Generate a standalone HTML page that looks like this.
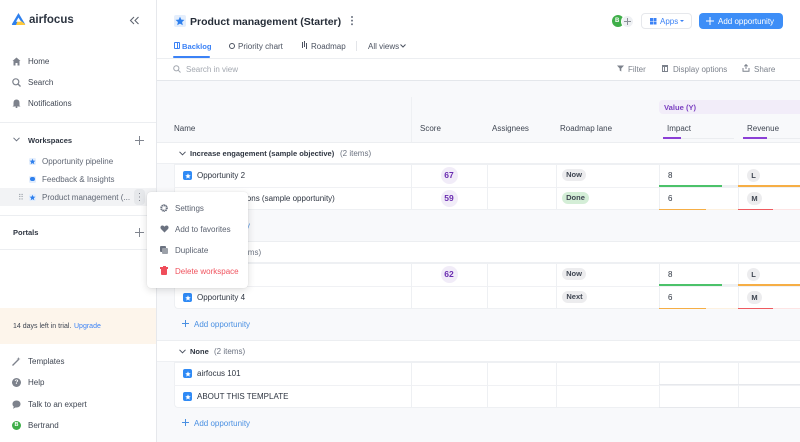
<!DOCTYPE html>
<html><head><meta charset="utf-8">
<style>
*{box-sizing:border-box;margin:0;padding:0}
body{width:800px;height:442px;overflow:hidden;background:#f8f9fb;font-family:"Liberation Sans",Arial,sans-serif;color:#2e3541;position:relative}
.a{position:absolute}
.t{position:absolute;white-space:nowrap;font-size:8px;line-height:12px;margin-top:0.5px}
.h{height:1px;background:#eceef1;position:absolute}
.v{width:1px;background:#eef0f3;position:absolute}
.ic{position:absolute;width:9px;height:9px;border-radius:2px;background:#2f8af5}
.sc{position:absolute;width:17px;height:17px;border-radius:50%;background:#f1ecf8;color:#6a2cb0;font-weight:bold;font-size:8.5px;line-height:17px;text-align:center}
.pl{position:absolute;height:12px;border-radius:6px;background:#ececee;color:#3f4652;font-size:7.5px;line-height:12px;text-align:center;font-weight:bold}
.lc{position:absolute;width:13px;height:13px;border-radius:7px;background:#ececee;color:#3f4652;font-size:7.5px;line-height:13px;text-align:center;font-weight:bold}
.side{color:#3f4652}
.ws{color:#5f6673}
.blue{color:#3b82f6}
.gb{font-weight:bold;color:#2e3541;font-size:7.5px}
</style></head><body>

<!-- SIDEBAR -->
<div class="a" style="left:0;top:0;width:157px;height:442px;background:#fff;border-right:1px solid #e6e8ec"></div>
<svg class="a" style="left:11px;top:12px" width="15" height="14" viewBox="0 0 15 14">
<path d="M7.5 1 L14 12 Q14.5 13 13 13 L2 13 Q0.5 13 1 12 Z" fill="#2f80ed"/>
<path d="M7.5 7 L14 12 Q14.5 13 13 13 L5 13 Z" fill="#ffc93c"/>
<path d="M7.5 5.5 L10 9.8 L5 9.8 Z" fill="#fff"/>
</svg>
<div class="t" style="left:29px;top:11px;font-size:11.5px;line-height:16px;font-weight:bold;color:#2c3440">airfocus</div>
<svg class="a" style="left:129px;top:16px" width="11" height="9" viewBox="0 0 11 9"><path d="M5 1 L1.5 4.5 L5 8 M9.5 1 L6 4.5 L9.5 8" stroke="#5f6570" stroke-width="1.1" fill="none"/></svg>

<svg class="a" style="left:12px;top:57px" width="9" height="9" viewBox="0 0 9 9"><path d="M4.5 0.5 L8.5 4 L7.5 4 L7.5 8.5 L5.5 8.5 L5.5 6 L3.5 6 L3.5 8.5 L1.5 8.5 L1.5 4 L0.5 4 Z" fill="#7d828c"/></svg>
<div class="t side" style="left:28px;top:55px">Home</div>
<svg class="a" style="left:12px;top:78px" width="9" height="9" viewBox="0 0 9 9"><circle cx="3.8" cy="3.8" r="3" stroke="#7d828c" stroke-width="1.2" fill="none"/><path d="M6 6 L8.5 8.5" stroke="#7d828c" stroke-width="1.3"/></svg>
<div class="t side" style="left:28px;top:76px">Search</div>
<svg class="a" style="left:12px;top:99px" width="9" height="9" viewBox="0 0 9 9"><path d="M4.5 0.5 Q7.5 0.5 7.5 4 L7.5 6.5 L8.5 7.5 L0.5 7.5 L1.5 6.5 L1.5 4 Q1.5 0.5 4.5 0.5 Z" fill="#7d828c"/><circle cx="4.5" cy="8.3" r="0.9" fill="#7d828c"/></svg>
<div class="t side" style="left:28px;top:97px">Notifications</div>

<div class="h" style="left:0;top:122px;width:156px"></div>

<svg class="a" style="left:13px;top:137px" width="7" height="5" viewBox="0 0 7 5"><path d="M0.5 0.8 L3.5 3.8 L6.5 0.8" stroke="#6b7280" stroke-width="1" fill="none"/></svg>
<div class="t gb" style="left:28px;top:134px">Workspaces</div>
<svg class="a" style="left:135px;top:136px" width="9" height="9" viewBox="0 0 9 9"><path d="M4.5 0 V9 M0 4.5 H9" stroke="#80858f" stroke-width="1"/></svg>

<div class="a" style="left:29px;top:158px;width:7px;height:7px;border-radius:1.5px;background:#e4eefc"></div>
<svg class="a" style="left:29px;top:158px" width="7" height="7" viewBox="0 0 10 10"><polygon points="5,1 6.2,3.8 9.2,4 6.9,5.9 7.6,8.9 5,7.3 2.4,8.9 3.1,5.9 0.8,4 3.8,3.8" fill="#2f80ed"/></svg>
<div class="t ws" style="left:42px;top:155px">Opportunity pipeline</div>
<div class="a" style="left:29px;top:176px;width:7px;height:7px;border-radius:1.5px;background:#e4eefc"></div>
<div class="a" style="left:30px;top:177px;width:5px;height:4px;border-radius:2px;background:#2f80ed"></div>
<div class="t ws" style="left:42px;top:173px">Feedback &amp; Insights</div>

<div class="a" style="left:0;top:188px;width:156px;height:18px;background:#f2f3f5"></div>
<div class="t" style="left:18px;top:191px;color:#9aa0a8;font-size:8px;letter-spacing:-1px">⠿</div>
<div class="a" style="left:29px;top:194px;width:7px;height:7px;border-radius:1.5px;background:#e4eefc"></div>
<svg class="a" style="left:29px;top:194px" width="7" height="7" viewBox="0 0 10 10"><polygon points="5,1 6.2,3.8 9.2,4 6.9,5.9 7.6,8.9 5,7.3 2.4,8.9 3.1,5.9 0.8,4 3.8,3.8" fill="#2f80ed"/></svg>
<div class="t ws" style="left:42px;top:191px">Product management (...</div>
<div class="a" style="left:134px;top:189px;width:11px;height:16px;border-radius:4px;background:#e6e8eb"></div>
<div class="a" style="left:138.7px;top:192.5px;width:1.6px;height:1.6px;border-radius:1px;background:#5f6570;box-shadow:0 3.5px 0 #5f6570,0 7px 0 #5f6570"></div>

<div class="h" style="left:0;top:215px;width:156px"></div>
<div class="t gb" style="left:13px;top:226px">Portals</div>
<svg class="a" style="left:135px;top:228px" width="9" height="9" viewBox="0 0 9 9"><path d="M4.5 0 V9 M0 4.5 H9" stroke="#80858f" stroke-width="1"/></svg>
<div class="h" style="left:0;top:249px;width:156px"></div>

<div class="a" style="left:0;top:308px;width:156px;height:36px;background:#fdf5eb"></div>
<div class="t" style="left:13px;top:320px;font-size:7px;color:#3d4450">14 days left in trial.</div>
<div class="t blue" style="left:74px;top:320px;font-size:7px">Upgrade</div>

<svg class="a" style="left:12px;top:357px" width="9" height="9" viewBox="0 0 9 9"><path d="M0.5 8.5 L6 3" stroke="#7d828c" stroke-width="1.3"/><path d="M6.5 0 L7 1.5 L8.5 2 L7 2.5 L6.5 4 L6 2.5 L4.5 2 L6 1.5Z" fill="#7d828c"/></svg>
<div class="t side" style="left:28px;top:355px">Templates</div>
<div class="a" style="left:12px;top:378px;width:9px;height:9px;border-radius:50%;background:#7d828c;color:#fff;font-size:6.5px;line-height:9px;text-align:center;font-weight:bold">?</div>
<div class="t side" style="left:28px;top:376px">Help</div>
<svg class="a" style="left:12px;top:400px" width="9" height="9" viewBox="0 0 9 9"><path d="M4.5 0.5 C7 0.5 8.5 2 8.5 4 C8.5 6 7 7.5 4.5 7.5 L3.5 7.5 L1 8.8 L1.8 6.6 C0.9 6 0.5 5 0.5 4 C0.5 2 2 0.5 4.5 0.5Z" fill="#7d828c"/></svg>
<div class="t side" style="left:28px;top:398px">Talk to an expert</div>
<div class="a" style="left:12px;top:421px;width:9px;height:9px;border-radius:50%;background:#3fae49;color:#fff;font-size:5.5px;line-height:9px;text-align:center;font-weight:bold">B</div>
<div class="t side" style="left:28px;top:419px">Bertrand</div>

<!-- MAIN HEADER -->
<div class="a" style="left:157px;top:0;width:643px;height:80px;background:#fff"></div>
<div class="a" style="left:174px;top:15px;width:12px;height:12px;border-radius:2px;background:#e4eefc"></div>
<svg class="a" style="left:175px;top:16px" width="10" height="10" viewBox="0 0 10 10"><polygon points="5,0.6 6.3,3.6 9.5,3.9 7.1,6 7.8,9.3 5,7.6 2.2,9.3 2.9,6 0.5,3.9 3.7,3.6" fill="#2f80ed"/></svg>
<div class="t" style="left:190px;top:14px;font-size:10.5px;line-height:14px;font-weight:bold;color:#262d38">Product management (Starter)</div>
<div class="a" style="left:351.2px;top:16px;width:1.8px;height:1.8px;border-radius:1px;background:#6b7280;box-shadow:0 3.6px 0 #6b7280,0 7.2px 0 #6b7280"></div>

<div class="a" style="left:612px;top:15px;width:12px;height:12px;border-radius:50%;background:#3fae49;color:#fff;font-size:6px;line-height:12px;text-indent:3px;font-weight:bold">B</div>
<div class="a" style="left:621px;top:14.5px;width:13px;height:13px;border-radius:50%;background:#eef0f3;border:1px solid #fff"></div>
<svg class="a" style="left:624px;top:17.5px" width="7" height="7" viewBox="0 0 7 7"><path d="M3.5 0 V7 M0 3.5 H7" stroke="#8a8f98" stroke-width="1"/></svg>

<div class="a" style="left:641px;top:13px;width:51px;height:16px;border:1px solid #e6e8ec;border-radius:4px;background:#fff"></div>
<div class="a" style="left:650px;top:18px;width:2.5px;height:2.5px;background:#3b82f6;box-shadow:3.5px 0 0 #3b82f6,0 3.5px 0 #3b82f6,3.5px 3.5px 0 #3b82f6"></div>
<div class="t blue" style="left:660px;top:15px">Apps</div>
<div class="a" style="left:680px;top:20px;width:0;height:0;border-left:2px solid transparent;border-right:2px solid transparent;border-top:2px solid #3b82f6"></div>

<div class="a" style="left:699px;top:13px;width:84px;height:16px;border-radius:4px;background:#3d8ef7"></div>
<svg class="a" style="left:706px;top:17px" width="8" height="8" viewBox="0 0 8 8"><path d="M4 0 V8 M0 4 H8" stroke="#fff" stroke-width="1"/></svg>
<div class="t" style="left:718px;top:15px;color:#fff">Add opportunity</div>

<!-- tabs -->
<div class="a" style="left:174px;top:42px;width:6px;height:7px;border:1px solid #3b82f6;border-radius:1px"></div>
<div class="a" style="left:176.5px;top:42px;width:1px;height:7px;background:#3b82f6"></div>
<div class="t blue" style="left:182px;top:40px;font-weight:bold;font-size:7.6px">Backlog</div>
<div class="a" style="left:173px;top:56px;width:37px;height:2px;background:#3b82f6;border-radius:1px"></div>
<div class="a" style="left:229px;top:43px;width:6px;height:6px;border:1.2px solid #4b5260;border-radius:50%"></div>
<div class="t" style="left:238px;top:40px;color:#4b5260">Priority chart</div>
<div class="a" style="left:302px;top:42px;width:1.2px;height:6px;background:#4b5260;box-shadow:2px -1px 0 #4b5260,4px 1px 0 #4b5260"></div>
<div class="t" style="left:311px;top:40px;color:#4b5260">Roadmap</div>
<div class="a" style="left:356px;top:41px;width:1px;height:10px;background:#e3e5e9"></div>
<div class="t" style="left:368px;top:40px;color:#4b5260">All views</div>
<svg class="a" style="left:400px;top:44px" width="6" height="4" viewBox="0 0 6 4"><path d="M0.5 0.5 L3 3 L5.5 0.5" stroke="#4b5260" stroke-width="1" fill="none"/></svg>

<div class="h" style="left:157px;top:58px;width:643px"></div>

<svg class="a" style="left:173px;top:65px" width="8" height="8" viewBox="0 0 8 8"><circle cx="3.3" cy="3.3" r="2.6" stroke="#a3a8b0" stroke-width="1" fill="none"/><path d="M5.2 5.2 L7.5 7.5" stroke="#a3a8b0" stroke-width="1"/></svg>
<div class="t" style="left:186px;top:63px;color:#a3a8b0">Search in view</div>

<svg class="a" style="left:617px;top:65px" width="7" height="7" viewBox="0 0 7 7"><path d="M0 0.5 H7 L4.3 3.5 V6.5 L2.7 5.5 V3.5 Z" fill="#7c828c"/></svg>
<div class="t" style="left:628px;top:63px;color:#7c828c">Filter</div>
<div class="a" style="left:662px;top:65px;width:6px;height:7px;border:1px solid #7c828c;border-top-width:2px"></div>
<div class="a" style="left:664px;top:66px;width:1px;height:6px;background:#7c828c"></div>
<div class="t" style="left:673px;top:63px;color:#7c828c">Display options</div>
<svg class="a" style="left:742px;top:64px" width="8" height="8" viewBox="0 0 8 8"><path d="M4 5 V0.8 M2.3 2.3 L4 0.6 L5.7 2.3 M1 4 V7.3 H7 V4" stroke="#7c828c" stroke-width="1" fill="none"/></svg>
<div class="t" style="left:754px;top:63px;color:#7c828c">Share</div>

<div class="a" style="left:157px;top:80px;width:643px;height:1px;background:#e4e7eb"></div>

<!-- TABLE HEADER -->
<div class="v" style="left:411px;top:97px;height:45px"></div>
<div class="a" style="left:659px;top:100px;width:141px;height:14px;background:#f2edf9;border-radius:4px 0 0 4px"></div>
<div class="t" style="left:664px;top:101px;font-weight:bold;color:#7b3fc1;font-size:7.6px">Value (Y)</div>
<div class="t" style="left:174px;top:122px;color:#3f4652">Name</div>
<div class="t" style="left:420px;top:122px;color:#3f4652">Score</div>
<div class="t" style="left:492px;top:122px;color:#3f4652">Assignees</div>
<div class="t" style="left:560px;top:122px;color:#3f4652">Roadmap lane</div>
<div class="t" style="left:667px;top:122px;color:#3f4652">Impact</div>
<div class="t" style="left:747px;top:122px;color:#3f4652">Revenue</div>
<div class="a" style="left:663px;top:137.5px;width:71px;height:1px;background:#ebedf0"></div>
<div class="a" style="left:663px;top:137px;width:18px;height:1.6px;background:#8b3fd6"></div>
<div class="a" style="left:743px;top:137.5px;width:57px;height:1px;background:#ebedf0"></div>
<div class="a" style="left:743px;top:137px;width:24px;height:1.6px;background:#8b3fd6"></div>

<!-- GROUP 1 -->
<div class="a" style="left:157px;top:142px;width:643px;height:22px;background:#fff;border-top:1px solid #eceef1;border-bottom:1px solid #eef0f3"></div>
<svg class="a" style="left:179px;top:151px" width="7" height="5" viewBox="0 0 7 5"><path d="M0.5 0.8 L3.5 3.8 L6.5 0.8" stroke="#4b5260" stroke-width="1" fill="none"/></svg>
<div class="t gb" style="left:190px;top:147px">Increase engagement (sample objective)</div>
<div class="t" style="left:340px;top:147px;color:#6b7280">(2 items)</div>

<div class="a" style="left:174px;top:164px;width:626px;height:46px;background:#fff;border:1px solid #eef0f3;border-right:none;border-radius:0 0 0 4px"></div>
<div class="h" style="left:174px;top:187px;width:626px;background:#f0f1f4"></div>
<div class="v" style="left:411px;top:164px;height:46px"></div>
<div class="v" style="left:487px;top:164px;height:46px"></div>
<div class="v" style="left:556px;top:164px;height:46px"></div>
<div class="v" style="left:659px;top:164px;height:46px"></div>
<div class="v" style="left:738px;top:164px;height:46px"></div>

<div class="ic" style="left:183px;top:171px"></div>
<svg class="a" style="left:184.5px;top:172.5px" width="6" height="6" viewBox="0 0 10 10"><polygon points="5,0.6 6.3,3.6 9.5,3.9 7.1,6 7.8,9.3 5,7.6 2.2,9.3 2.9,6 0.5,3.9 3.7,3.6" fill="#fff"/></svg>
<div class="t" style="left:197px;top:169px;color:#2e3541">Opportunity 2</div>
<div class="sc" style="left:440.5px;top:167px">67</div>
<div class="pl" style="left:562px;top:169px;width:24px">Now</div>
<div class="t" style="left:668px;top:169px;color:#2e3541">8</div>
<div class="a" style="left:659px;top:185px;width:79px;height:1.5px;background:#eef0f2"></div>
<div class="a" style="left:659px;top:185px;width:63px;height:1.5px;background:#4cc26a"></div>
<div class="lc" style="left:747px;top:169px">L</div>
<div class="a" style="left:738px;top:185px;width:62px;height:1.5px;background:#f6ae45"></div>

<div class="ic" style="left:183px;top:194px"></div>
<div class="t" style="left:197px;top:192px;color:#2e3541">Push notifications (sample opportunity)</div>
<div class="sc" style="left:440.5px;top:190px">59</div>
<div class="pl" style="left:562px;top:192px;width:27px;background:#d4eed7">Done</div>
<div class="t" style="left:668px;top:192px;color:#2e3541">6</div>
<div class="a" style="left:659px;top:208.5px;width:79px;height:1.5px;background:#fdf1e0"></div>
<div class="a" style="left:659px;top:208.5px;width:47px;height:1.5px;background:#f6ae45"></div>
<div class="lc" style="left:747px;top:192px;width:15px">M</div>
<div class="a" style="left:738px;top:208.5px;width:62px;height:1.5px;background:#fde4e4"></div>
<div class="a" style="left:738px;top:208.5px;width:35px;height:1.5px;background:#ef5a5f"></div>

<svg class="a" style="left:182px;top:221px" width="7" height="7" viewBox="0 0 7 7"><path d="M3.5 0 V7 M0 3.5 H7" stroke="#4a90e2" stroke-width="1"/></svg>
<div class="t" style="left:194px;top:219px;color:#4a90e2">Add opportunity</div>

<!-- GROUP 2 -->
<div class="a" style="left:157px;top:241px;width:643px;height:22px;background:#fff;border-top:1px solid #eceef1;border-bottom:1px solid #eef0f3"></div>
<svg class="a" style="left:179px;top:250px" width="7" height="5" viewBox="0 0 7 5"><path d="M0.5 0.8 L3.5 3.8 L6.5 0.8" stroke="#4b5260" stroke-width="1" fill="none"/></svg>
<div class="t gb" style="left:190px;top:246px">Retention</div>
<div class="t" style="left:230px;top:246px;color:#6b7280">(2 items)</div>

<div class="a" style="left:174px;top:263px;width:626px;height:46px;background:#fff;border:1px solid #eef0f3;border-right:none;border-radius:0 0 0 4px"></div>
<div class="h" style="left:174px;top:286px;width:626px;background:#f0f1f4"></div>
<div class="v" style="left:411px;top:263px;height:46px"></div>
<div class="v" style="left:487px;top:263px;height:46px"></div>
<div class="v" style="left:556px;top:263px;height:46px"></div>
<div class="v" style="left:659px;top:263px;height:46px"></div>
<div class="v" style="left:738px;top:263px;height:46px"></div>

<div class="ic" style="left:183px;top:270px"></div>
<div class="t" style="left:197px;top:268px;color:#2e3541">Opportunity 3</div>
<div class="sc" style="left:440.5px;top:266px">62</div>
<div class="pl" style="left:562px;top:268px;width:24px">Now</div>
<div class="t" style="left:668px;top:268px;color:#2e3541">8</div>
<div class="a" style="left:659px;top:284px;width:79px;height:1.5px;background:#eef0f2"></div>
<div class="a" style="left:659px;top:284px;width:63px;height:1.5px;background:#4cc26a"></div>
<div class="lc" style="left:747px;top:268px">L</div>
<div class="a" style="left:738px;top:284px;width:62px;height:1.5px;background:#f6ae45"></div>

<div class="ic" style="left:183px;top:293px"></div>
<svg class="a" style="left:184.5px;top:294.5px" width="6" height="6" viewBox="0 0 10 10"><polygon points="5,0.6 6.3,3.6 9.5,3.9 7.1,6 7.8,9.3 5,7.6 2.2,9.3 2.9,6 0.5,3.9 3.7,3.6" fill="#fff"/></svg>
<div class="t" style="left:197px;top:291px;color:#2e3541">Opportunity 4</div>
<div class="pl" style="left:562px;top:291px;width:25px">Next</div>
<div class="t" style="left:668px;top:291px;color:#2e3541">6</div>
<div class="a" style="left:659px;top:307.5px;width:79px;height:1.5px;background:#fdf1e0"></div>
<div class="a" style="left:659px;top:307.5px;width:47px;height:1.5px;background:#f6ae45"></div>
<div class="lc" style="left:747px;top:291px;width:15px">M</div>
<div class="a" style="left:738px;top:307.5px;width:62px;height:1.5px;background:#fde4e4"></div>
<div class="a" style="left:738px;top:307.5px;width:35px;height:1.5px;background:#ef5a5f"></div>

<svg class="a" style="left:182px;top:320px" width="7" height="7" viewBox="0 0 7 7"><path d="M3.5 0 V7 M0 3.5 H7" stroke="#4a90e2" stroke-width="1"/></svg>
<div class="t" style="left:194px;top:318px;color:#4a90e2">Add opportunity</div>

<!-- GROUP 3 -->
<div class="a" style="left:157px;top:340px;width:643px;height:22px;background:#fff;border-top:1px solid #eceef1;border-bottom:1px solid #eef0f3"></div>
<svg class="a" style="left:179px;top:349px" width="7" height="5" viewBox="0 0 7 5"><path d="M0.5 0.8 L3.5 3.8 L6.5 0.8" stroke="#4b5260" stroke-width="1" fill="none"/></svg>
<div class="t gb" style="left:190px;top:345px">None</div>
<div class="t" style="left:214px;top:345px;color:#6b7280">(2 items)</div>

<div class="a" style="left:174px;top:362px;width:626px;height:46px;background:#fff;border:1px solid #eef0f3;border-right:none;border-radius:0 0 0 4px"></div>
<div class="h" style="left:174px;top:385px;width:626px;background:#f0f1f4"></div>
<div class="v" style="left:411px;top:362px;height:46px"></div>
<div class="v" style="left:487px;top:362px;height:46px"></div>
<div class="v" style="left:556px;top:362px;height:46px"></div>
<div class="v" style="left:659px;top:362px;height:46px"></div>
<div class="v" style="left:738px;top:362px;height:46px"></div>
<div class="a" style="left:659px;top:383.5px;width:141px;height:1.5px;background:#e6e8ec"></div>
<div class="a" style="left:659px;top:406.5px;width:141px;height:1.5px;background:#e6e8ec"></div>

<div class="ic" style="left:183px;top:369px"></div>
<svg class="a" style="left:184.5px;top:370.5px" width="6" height="6" viewBox="0 0 10 10"><polygon points="5,0.6 6.3,3.6 9.5,3.9 7.1,6 7.8,9.3 5,7.6 2.2,9.3 2.9,6 0.5,3.9 3.7,3.6" fill="#fff"/></svg>
<div class="t" style="left:197px;top:367px;color:#2e3541">airfocus 101</div>
<div class="ic" style="left:183px;top:392px"></div>
<svg class="a" style="left:184.5px;top:393.5px" width="6" height="6" viewBox="0 0 10 10"><polygon points="5,0.6 6.3,3.6 9.5,3.9 7.1,6 7.8,9.3 5,7.6 2.2,9.3 2.9,6 0.5,3.9 3.7,3.6" fill="#fff"/></svg>
<div class="t" style="left:197px;top:390px;color:#2e3541">ABOUT THIS TEMPLATE</div>

<svg class="a" style="left:182px;top:419px" width="7" height="7" viewBox="0 0 7 7"><path d="M3.5 0 V7 M0 3.5 H7" stroke="#4a90e2" stroke-width="1"/></svg>
<div class="t" style="left:194px;top:417px;color:#4a90e2">Add opportunity</div>

<!-- CONTEXT MENU -->
<div class="a" style="left:147px;top:192px;width:101px;height:96px;background:#fff;border-radius:4px;box-shadow:0 2px 8px rgba(0,0,0,0.14),0 0 1px rgba(0,0,0,0.12)"></div>
<svg class="a" style="left:160px;top:204px" width="8" height="8" viewBox="0 0 8 8"><circle cx="4" cy="4" r="2.6" stroke="#6b7280" stroke-width="1.6" fill="none" stroke-dasharray="1.4 0.6"/><circle cx="4" cy="4" r="3.4" stroke="#6b7280" stroke-width="0.9" fill="none" stroke-dasharray="1.1 1.1"/></svg>
<div class="t" style="left:175px;top:202px;color:#5b6270">Settings</div>
<svg class="a" style="left:160px;top:225px" width="9" height="8" viewBox="0 0 9 8"><path d="M4.5 7.5 L1 4 C-0.2 2.6 0.6 0.5 2.4 0.5 C3.4 0.5 4 1.1 4.5 1.7 C5 1.1 5.6 0.5 6.6 0.5 C8.4 0.5 9.2 2.6 8 4 Z" fill="#6b7280"/></svg>
<div class="t" style="left:175px;top:223px;color:#5b6270">Add to favorites</div>
<div class="a" style="left:160px;top:246px;width:6px;height:6px;background:#6b7280;border-radius:1px"></div>
<div class="a" style="left:162px;top:248px;width:6px;height:6px;background:#9ca1a9;border-radius:1px"></div>
<div class="t" style="left:175px;top:244px;color:#5b6270">Duplicate</div>
<div class="a" style="left:160px;top:267px;width:8px;height:1.5px;background:#ef4d5a"></div>
<div class="a" style="left:162.5px;top:266px;width:3px;height:1.5px;background:#ef4d5a"></div>
<div class="a" style="left:161px;top:269px;width:6px;height:6px;background:#ef4d5a;border-radius:0 0 1px 1px"></div>
<div class="t" style="left:175px;top:265px;color:#f0535e">Delete workspace</div>

</body></html>
